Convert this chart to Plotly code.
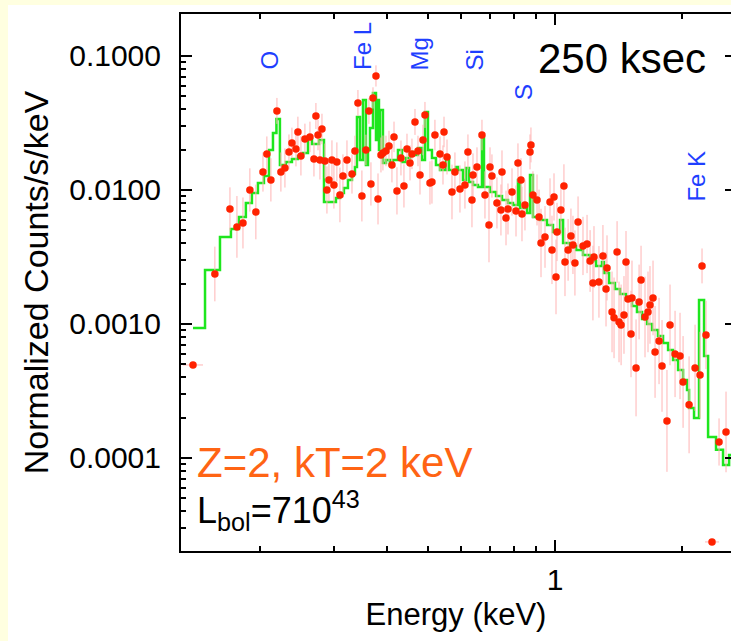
import numpy as np
import plotly.graph_objects as go

# ---------------- data ----------------
# model (green step histogram): bin left edges (keV) + final right edge
model_edges = [0.1388, 0.1482, 0.1608, 0.1707, 0.1783, 0.1852, 0.1914, 0.1978, 0.2044, 0.2101,
               0.2147, 0.2188, 0.2230, 0.2304, 0.2381, 0.2460, 0.2528, 0.2599, 0.2656, 0.2760,
               0.2836, 0.3027, 0.3094, 0.3162, 0.3232, 0.3304, 0.3358, 0.3395, 0.3451, 0.3508,
               0.3565, 0.3605, 0.3645, 0.3705, 0.3766, 0.3787, 0.3828, 0.3849, 0.3912, 0.3977,
               0.4064, 0.4131, 0.4246, 0.4340, 0.4436, 0.4534, 0.4634, 0.4736, 0.4841, 0.4920,
               0.5001, 0.5111, 0.5224, 0.5340, 0.5518, 0.5609, 0.5826, 0.5890, 0.6053, 0.6153,
               0.6255, 0.6393, 0.6570, 0.6714, 0.6788, 0.7015, 0.7248, 0.7489, 0.7738, 0.7953,
               0.8171, 0.8262, 0.8582, 0.8725, 0.8867, 0.9214, 0.9573, 0.9891, 1.028, 1.045,
               1.085, 1.122, 1.165, 1.211, 1.251, 1.292, 1.306, 1.343, 1.387, 1.426,
               1.473, 1.522, 1.564, 1.608, 1.652, 1.698, 1.754, 1.803, 1.853, 1.904,
               1.957, 2.011, 2.055, 2.078, 2.135, 2.194, 2.255, 2.305, 2.407, 2.501,
               2.585, 2.620]
model_counts = [0.000933, 0.002529, 0.004459, 0.005117, 0.006288, 0.007998, 0.009497, 0.01128, 0.01272, 0.01988,
                0.02663, 0.03388, 0.01537, 0.01618, 0.01703, 0.01793, 0.01888, 0.02402, 0.02204, 0.02361,
                0.008136, 0.008716, 0.009497, 0.01035, 0.01188, 0.01317, 0.01485, 0.03506, 0.01675, 0.04694,
                0.01537, 0.01988, 0.02902, 0.05295, 0.02361, 0.04694, 0.01988, 0.03954, 0.01590, 0.01675,
                0.01537, 0.01675, 0.01988, 0.01618, 0.01733, 0.01921, 0.01824, 0.02058, 0.01675, 0.03820,
                0.01988, 0.01733, 0.01537, 0.01410, 0.01733, 0.01410, 0.01485, 0.01410, 0.01188, 0.01460,
                0.01147, 0.01090, 0.01053, 0.02444, 0.01053, 0.009663, 0.009019, 0.008421, 0.007998, 0.007728,
                0.01188, 0.007339, 0.006735, 0.01294, 0.006288, 0.005972, 0.005479, 0.004859, 0.005972, 0.004023,
                0.003820, 0.003567, 0.003272, 0.002953, 0.002709, 0.002902, 0.002402, 0.002023, 0.001824, 0.001675,
                0.001510, 0.001362, 0.001229, 0.001090, 0.001000, 0.000902, 0.000814, 0.000722, 0.000640, 0.000539,
                0.000454, 0.000382, 0.000322, 0.000236, 0.000199, 0.001510, 0.000577, 0.000143, 0.000115, 0.0000887,
                0.0001053]

# data points (red) : energy (keV), normalized counts, error-bar factor
energy = [0.1388, 0.1564, 0.1698, 0.1764, 0.1823, 0.1893, 0.1956, 0.2033, 0.2077, 0.2123,
          0.2194, 0.2242, 0.2292, 0.2343, 0.2381, 0.2434, 0.2460, 0.2501, 0.2556, 0.2627,
          0.2685, 0.2714, 0.2745, 0.2774, 0.2805, 0.2851, 0.2882, 0.2914, 0.2962, 0.2994,
          0.3043, 0.3094, 0.3145, 0.3215, 0.3304, 0.3358, 0.3413, 0.3488, 0.3565, 0.3624,
          0.3664, 0.3705, 0.3766, 0.3808, 0.3870, 0.3912, 0.3977, 0.4043, 0.4109, 0.4155,
          0.4223, 0.4316, 0.4387, 0.4460, 0.4534, 0.4583, 0.4659, 0.4736, 0.4788, 0.4867,
          0.4920, 0.5056, 0.5111, 0.5195, 0.5340, 0.5428, 0.5458, 0.5548, 0.5701, 0.5794,
          0.5955, 0.6119, 0.6220, 0.6358, 0.6393, 0.6534, 0.6714, 0.6825, 0.6976, 0.7015,
          0.7090, 0.7286, 0.7447, 0.7489, 0.7655, 0.7738, 0.7909, 0.8084, 0.8171, 0.8306,
          0.8352, 0.8489, 0.8725, 0.8771, 0.8867, 0.9066, 0.9166, 0.9265, 0.9469, 0.9731,
          0.9837, 0.9946, 1.0055, 1.011, 1.033, 1.050, 1.056, 1.074, 1.091, 1.103,
          1.115, 1.134, 1.165, 1.191, 1.211, 1.230, 1.237, 1.271, 1.299, 1.321,
          1.328, 1.365, 1.380, 1.403, 1.418, 1.434, 1.457, 1.473, 1.489, 1.514,
          1.522, 1.556, 1.582, 1.599, 1.634, 1.661, 1.679, 1.707, 1.726, 1.764,
          1.793, 1.842, 1.873, 1.925, 1.978, 2.011, 2.078, 2.147, 2.206, 2.230,
          2.279, 2.355, 2.447, 2.542]
counts = [0.000494, 0.00236, 0.00721, 0.00530, 0.00567, 0.0100, 0.00685, 0.01361, 0.01858, 0.01189,
          0.0389, 0.01361, 0.01459, 0.01923, 0.02244, 0.02023, 0.0271, 0.01795, 0.02404, 0.02489,
          0.01702, 0.03565, 0.0257, 0.01675, 0.02851, 0.01644, 0.0100, 0.01189, 0.01675, 0.01089,
          0.01618, 0.00918, 0.01271, 0.01675, 0.01315, 0.01954, 0.04457, 0.00902, 0.01988, 0.0389,
          0.01109, 0.04864, 0.07096, 0.00857, 0.01824, 0.01888, 0.01954, 0.02128, 0.01537, 0.02489,
          0.00984, 0.01733, 0.01072, 0.02023, 0.01590, 0.01858, 0.03218, 0.01954, 0.01294, 0.02361,
          0.03631, 0.01128, 0.01147, 0.0257, 0.01858, 0.01537, 0.0271, 0.01762, 0.00966, 0.01361,
          0.01017, 0.01089, 0.01923, 0.00842, 0.01294, 0.01486, 0.0257, 0.00918, 0.00548, 0.01486,
          0.01271, 0.0080, 0.00709, 0.01361, 0.00618, 0.00721, 0.00966, 0.00697, 0.01590, 0.01189,
          0.00662, 0.00773, 0.01923, 0.02168, 0.00918, 0.00842, 0.00629, 0.00402, 0.00446, 0.00814,
          0.00357, 0.00887, 0.002244, 0.00486, 0.00709, 0.01072, 0.002904, 0.00357, 0.00454, 0.00389,
          0.00285, 0.00577, 0.00382, 0.00395, 0.00295, 0.00202, 0.00316, 0.00206, 0.00322, 0.00182,
          0.00262, 0.00123, 0.00111, 0.00344, 0.001035, 0.000984, 0.001167, 0.002904, 0.001538, 0.000841,
          0.001563, 0.000470, 0.001459, 0.00213, 0.001127, 0.00123, 0.001387, 0.001563, 0.000618, 0.000746,
          0.000486, 0.000189, 0.000984, 0.000597, 0.000577, 0.000369, 0.000249, 0.000470, 0.000416, 0.00271,
          0.000828, 0.0000236, 0.0001315, 0.0001563]
err_factor = [1.05, 1.6, 1.45, 1.7, 1.55, 1.45, 1.6, 1.4, 1.35, 1.45,
              1.25, 1.4, 1.4, 1.35, 1.3, 1.35, 1.3, 1.4, 1.3, 1.3,
              1.35, 1.25, 1.3, 1.4, 1.3, 1.35, 1.5, 1.45, 1.4, 1.5,
              1.4, 1.6, 1.45, 1.4, 1.4, 1.3, 1.25, 1.55, 1.3, 1.25,
              1.45, 1.2, 1.2, 1.55, 1.35, 1.35, 1.3, 1.3, 1.35, 1.3,
              1.5, 1.35, 1.45, 1.3, 1.35, 1.3, 1.25, 1.3, 1.4, 1.3,
              1.25, 1.45, 1.45, 1.3, 1.35, 1.4, 1.3, 1.35, 1.6, 1.4,
              1.5, 1.5, 1.35, 1.6, 1.45, 1.4, 1.3, 1.5, 1.9, 1.4,
              1.45, 1.55, 1.55, 1.45, 1.6, 1.55, 1.5, 1.55, 1.4, 1.45,
              1.6, 1.55, 1.35, 1.35, 1.5, 1.55, 1.6, 1.8, 1.7, 1.5,
              1.8, 1.5, 1.9, 1.65, 1.55, 1.45, 1.8, 1.7, 1.6, 1.65,
              1.75, 1.55, 1.65, 1.65, 1.7, 1.9, 1.7, 1.85, 1.7, 1.9,
              1.75, 2.0, 2.0, 1.7, 2.0, 2.0, 1.95, 1.7, 1.9, 2.1,
              1.9, 2.3, 1.9, 1.8, 2.0, 2.0, 1.95, 1.9, 2.2, 2.1,
              2.2, 2.4, 2.0, 2.1, 2.1, 2.2, 2.3, 2.1, 2.1, 1.35,
              1.8, 1.02, 1.5, 2.0]
# points with a visible horizontal (energy) error bar
xbar_index = [0, 151]
xbar_hi = [0.0078, 0.092]
xbar_lo = [0.0074, 0.088]

# axis ticks
y_tickvals = [1e-4, 1e-3, 1e-2, 1e-1]
y_ticktext = ["0.0001", "0.0010", "0.0100", "0.1000"]
y_minor = [m * 10.0 ** e for e in (-5, -4, -3, -2) for m in range(2, 10)]
x_tickvals = [1]
x_ticktext = ["1"]
x_minor = [0.2, 0.3, 0.4, 0.5, 0.6, 0.7, 0.8, 0.9, 2.0]
x_range_keV = [0.1300, 2.612]
y_range = [2.02e-5, 0.2057]

# line identifications
line_names = ["O", "Fe L", "Mg", "Si", "S", "Fe K"]
line_energy = [0.2101, 0.3508, 0.4788, 0.6463, 0.8397, 2.170]
line_label_base = [0.8920, 0.8920, 0.8920, 0.8920, 0.8360, 0.646]  # paper y of label start

# ---------------- figure ----------------
FONT = "Liberation Sans, Arial, sans-serif"
RED = "#FF2200"
PINK = "#FFB4B4"
GREEN = "#1EE61E"
BLUE = "#1F3FFF"

c = np.array(counts)
f = np.array(err_factor)
e_up = c * (f - 1.0)
e_dn = c * (1.0 - 1.0 / f)
xhi = np.zeros(len(energy))
xlo = np.zeros(len(energy))
for i, hi, lo in zip(xbar_index, xbar_hi, xbar_lo):
    xhi[i] = hi
    xlo[i] = lo

fig = go.Figure()
fig.add_trace(go.Scatter(
    x=model_edges, y=model_counts + [model_counts[-1]],
    mode="lines", line=dict(color=GREEN, width=2.5, shape="hv"),
    hoverinfo="skip", showlegend=False, xaxis="x", yaxis="y"))
fig.add_trace(go.Scatter(
    x=energy, y=counts, mode="markers",
    marker=dict(color=RED, size=7.5),
    error_y=dict(type="data", symmetric=False, array=e_up, arrayminus=e_dn,
                 color=PINK, thickness=1, width=0),
    error_x=dict(type="data", symmetric=False, array=xhi, arrayminus=xlo,
                 color=PINK, thickness=1, width=0),
    showlegend=False, xaxis="x", yaxis="y2"))

ax_common = dict(showgrid=False, zeroline=False, automargin=False)
fig.update_layout(
    width=731, height=641,
    margin=dict(l=181, r=0, t=14, b=90, autoexpand=False),
    paper_bgcolor="#FFFFE0", plot_bgcolor="white",
    font=dict(family=FONT, color="black"),
    xaxis=dict(type="log", range=[np.log10(x_range_keV[0]), np.log10(x_range_keV[1])],
               showline=True, linecolor="black", linewidth=2, mirror="ticks",
               ticks="inside", ticklen=11, tickwidth=2, tickcolor="black",
               tickmode="array", tickvals=x_tickvals, ticktext=x_ticktext,
               tickfont=dict(size=30, family=FONT), ticklabelstandoff=1,
               minor=dict(tickmode="array", tickvals=x_minor, ticks="inside",
                          ticklen=5, tickwidth=1.5, tickcolor="black"),
               title=dict(text="Energy (keV)", font=dict(size=31, family=FONT), standoff=8),
               **ax_common),
    yaxis=dict(type="log", range=[np.log10(y_range[0]), np.log10(y_range[1])],
               showline=True, linecolor="black", linewidth=2,
               ticks="inside", ticklen=11, tickwidth=2, tickcolor="black",
               tickmode="array", tickvals=y_tickvals, ticktext=y_ticktext,
               tickfont=dict(size=30, family=FONT), ticklabelstandoff=12,
               minor=dict(tickmode="array", tickvals=y_minor, ticks="inside",
                          ticklen=5, tickwidth=1.5, tickcolor="black"),
               title=dict(text="Normalized Counts/s/keV", font=dict(size=34, family=FONT), standoff=10),
               **ax_common),
    yaxis2=dict(type="log", range=[np.log10(y_range[0]), np.log10(y_range[1])],
                overlaying="y", side="right", showline=False,
                ticks="inside", ticklen=6, tickwidth=2, tickcolor="black",
                tickmode="array", tickvals=y_tickvals, showticklabels=False,
                **ax_common),
)

# white panel over the cream page background
fig.add_shape(type="rect", xref="paper", yref="paper",
              x0=(8 - 181) / 550, x1=1.02, y0=-0.2, y1=(551 - 5) / 537,
              fillcolor="white", line=dict(width=0), layer="below")

for name, en, yb in zip(line_names, line_energy, line_label_base):
    fig.add_annotation(x=np.log10(en), xref="x", y=yb, yref="paper",
                       text=name, textangle=-90, showarrow=False,
                       xanchor="center", yanchor="bottom",
                       font=dict(size=24, color=BLUE, family=FONT))

fig.add_annotation(x=(622 - 181) / 550, y=(551 - 58) / 537, xref="paper", yref="paper",
                   text="250 ksec", showarrow=False, xanchor="center", yanchor="middle",
                   font=dict(size=42, color="black", family=FONT))
fig.add_annotation(x=(195 - 181) / 550, y=(551 - 462) / 537, xref="paper", yref="paper",
                   text="Z=2, kT=2 keV", showarrow=False, xanchor="left", yanchor="middle",
                   font=dict(size=42, color="#FF6414", family=FONT))
fig.add_annotation(x=(195 - 181) / 550, y=(551 - 510) / 537, xref="paper", yref="paper",
                   text="L<sub>bol</sub>=710<sup>43</sup>", showarrow=False,
                   xanchor="left", yanchor="middle",
                   font=dict(size=36, color="black", family=FONT))

fig.write_html("out.html")
